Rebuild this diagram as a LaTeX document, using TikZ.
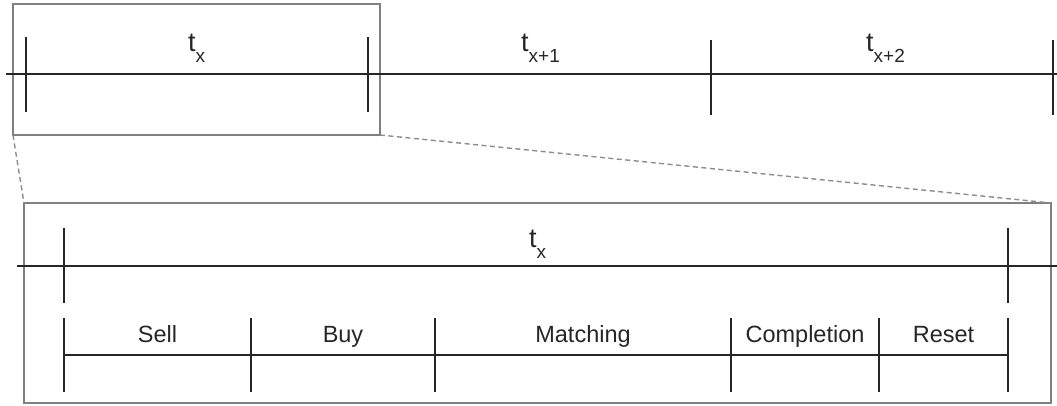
\documentclass[tikz,border=0pt]{standalone}
\usepackage{fontspec}
\setmainfont{Liberation Sans}
\usetikzlibrary{calc}
\begin{document}
\begin{tikzpicture}[x=1pt,y=-1pt,
  tline/.style={draw=black!85,line width=1.5pt},
  tick/.style={draw=black!85,line width=1.5pt},
  frame/.style={draw=black!50,line width=1.6pt},
  zoomline/.style={draw=black!45,line width=1.4pt,dash pattern=on 5pt off 3.5pt},
  tlabel/.style={inner sep=0pt,anchor=base west,font=\fontsize{27}{30}\selectfont,text=black!85},
  plabel/.style={inner sep=0pt,anchor=base,font=\fontsize{23.5}{26}\selectfont,text=black!85}]
\useasboundingbox (0,0) rectangle (1057,405);
\newcommand{\sbx}[1]{\raisebox{-11pt}{\fontsize{19}{20}\selectfont #1}}
% top overview timeline
\coordinate (b1nw) at (13,4);
\coordinate (b1se) at (380,135);
\draw[frame] (b1nw) rectangle (b1se);
\coordinate (l1s) at (6,74);
\coordinate (l1e) at (1057,74);
\draw[tline] (l1s) -- (l1e);
\coordinate (a1) at (26,37);  \coordinate (a1b) at (26,112);
\coordinate (a2) at (368,37); \coordinate (a2b) at (368,112);
\coordinate (a3) at (711,40); \coordinate (a3b) at (711,115);
\coordinate (a4) at (1053,40); \coordinate (a4b) at (1053,115);
\draw[tick] (a1) -- (a1b);
\draw[tick] (a2) -- (a2b);
\draw[tick] (a3) -- (a3b);
\draw[tick] (a4) -- (a4b);
\node[tlabel] (tx) at (188,51) {t\sbx{x}};
\node[tlabel] (tx1) at (521,51) {t\sbx{x+1}};
\node[tlabel] (tx2) at (866,51) {t\sbx{x+2}};
% zoomed box
\coordinate (b2nw) at (24,203);
\coordinate (b2se) at (1051,403);
\draw[frame] (b2nw) rectangle (b2se);
\draw[zoomline] (b1nw |- b1se) -- (b2nw);
\draw[zoomline] (b1se) -- (b2se |- b2nw);
% inner t_x line
\coordinate (l2s) at (17,266);
\coordinate (l2e) at (1057,266);
\draw[tline] (l2s) -- (l2e);
\coordinate (c1) at (64,228);  \coordinate (c1b) at (64,303);
\coordinate (c2) at (1008,228); \coordinate (c2b) at (1008,303);
\draw[tick] (c1) -- (c1b);
\draw[tick] (c2) -- (c2b);
\node[tlabel] (txz) at (529,247) {t\sbx{x}};
% phase line
\coordinate (p1) at (64,318);  \coordinate (p1b) at (64,392);
\coordinate (p2) at (251,318); \coordinate (p2b) at (251,392);
\coordinate (p3) at (435,318); \coordinate (p3b) at (435,392);
\coordinate (p4) at (731,318); \coordinate (p4b) at (731,392);
\coordinate (p5) at (879,318); \coordinate (p5b) at (879,392);
\coordinate (p6) at (1008,318); \coordinate (p6b) at (1008,392);
\coordinate (m1) at (64,355);
\coordinate (m6) at (1008,355);
\draw[tline] (m1) -- (m6);
\foreach \i in {1,...,6} {\draw[tick] (p\i) -- (p\i b);}
\node[plabel] (sell) at ($(p1)!0.5!(p2)+(0,24)$) {Sell};
\node[plabel] (buy) at ($(p2)!0.5!(p3)+(0,24)$) {Buy};
\node[plabel] (match) at ($(p3)!0.5!(p4)+(0,24)$) {Matching};
\node[plabel] (compl) at ($(p4)!0.5!(p5)+(0,24)$) {Completion};
\node[plabel] (reset) at ($(p5)!0.5!(p6)+(0,24)$) {Reset};
\end{tikzpicture}
\end{document}
